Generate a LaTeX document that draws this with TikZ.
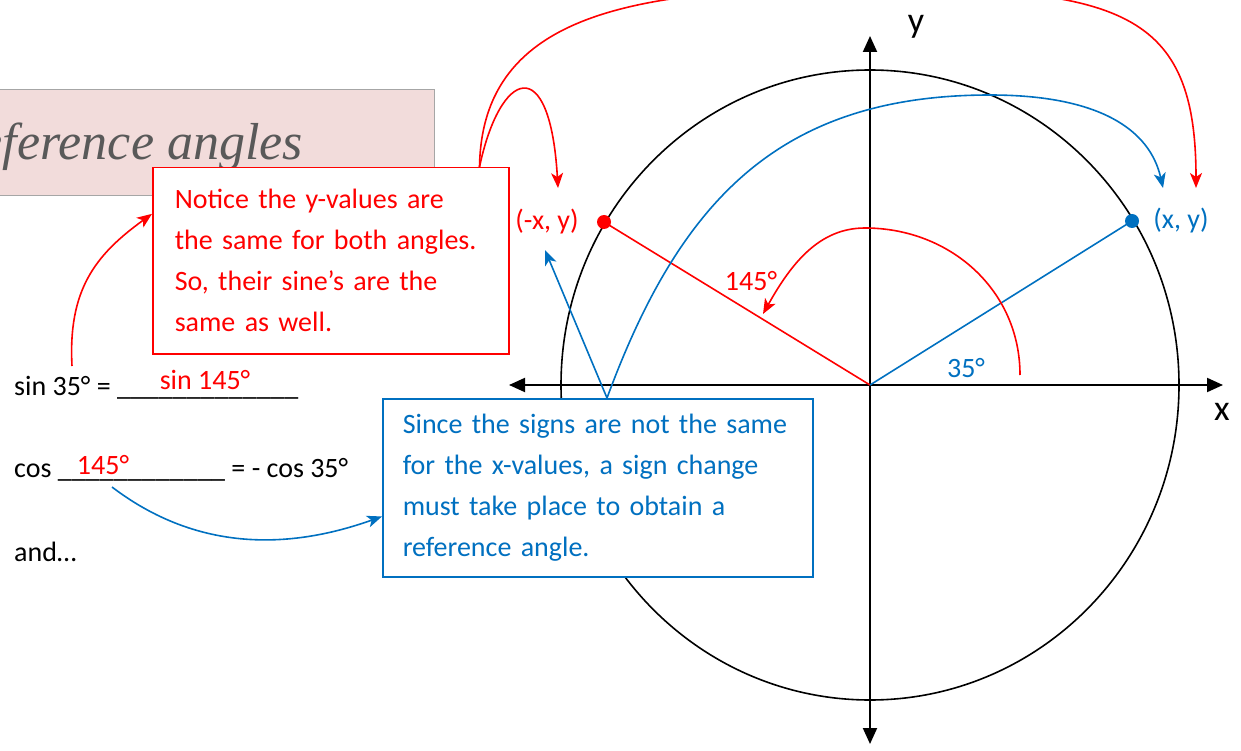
\documentclass[tikz,border=0pt]{standalone}
\usepackage{fontspec}
\setmainfont{Carlito}
\newfontfamily\titlefont{Liberation Serif}
\usetikzlibrary{arrows.meta, positioning, calc}
\definecolor{noteRed}{RGB}{255,0,0}
\definecolor{signBlue}{RGB}{0,112,192}
\definecolor{titlePink}{RGB}{242,220,219}
\definecolor{titleGray}{RGB}{89,89,89}

\begin{document}
\begin{tikzpicture}[
    x=1pt, y=1pt,
    >={Stealth[length=15pt, width=12pt, inset=4pt]},
    txt/.style={font=\fontsize{28}{41}\selectfont, inner sep=0pt},
    notebox/.style={txt, draw=noteRed, line width=1.5pt, fill=white,
                    text=noteRed, align=left, text width=312pt,
                    inner xsep=22pt, minimum height=186pt, anchor=north west},
    signbox/.style={txt, draw=signBlue, line width=1.5pt, fill=white,
                    text=signBlue, align=left, text width=390pt,
                    inner xsep=20pt, minimum height=178pt, anchor=north west},
    axis/.style={line width=2pt,
                 arrows={Triangle[length=16pt, width=14pt]-Triangle[length=16pt, width=14pt]}},
    axlbl/.style={font=\fontsize{36}{36}\selectfont, inner sep=0pt},
    redline/.style={noteRed, line width=1.6pt},
    blueline/.style={signBlue, line width=1.6pt},
    dot/.style={circle, inner sep=0pt, minimum size=14pt}
  ]
  \useasboundingbox (0,0) rectangle (1241,-751);
  \clip (0,0) rectangle (1241,-751);

  % Title banner
  \node[draw=gray!70, line width=1pt, fill=titlePink, inner sep=0pt,
        minimum width=450pt, minimum height=106pt, anchor=north east]
        (titlebox) at (435,-89) {};
  \node[font=\titlefont\itshape\fontsize{52}{60}\selectfont, text=titleGray,
        inner sep=0pt, anchor=base east] (title) at (303,-160) {Reference angles};

  % Unit circle and axes
  \coordinate (O) at (870,-385);
  \draw[line width=1.6pt] (O) ellipse [x radius=309pt, y radius=315pt];
  \coordinate (xl) at (509,-385);
  \coordinate (xr) at (1223,-385);
  \coordinate (yt) at (870,-36);
  \coordinate (yb) at (870,-744);
  \draw[axis] (xl) -- (xr);
  \draw[axis] (yb) -- (yt);
  \node[axlbl] (xlbl) at (1222,-412) {x};
  \node[axlbl] (ylbl) at (916,-27) {y};

  % Terminal points
  \node[dot, fill=noteRed] (redpt) at (604,-222) {};
  \node[dot, fill=signBlue] (bluept) at (1132,-221) {};
  \draw[redline] (O) -- (redpt.center);
  \draw[blueline] (O) -- (bluept.center);
  \node[txt, text=noteRed, left=18pt of redpt] (redlbl) {(-x, y)};
  \node[txt, text=signBlue, right=14pt of bluept] (bluelbl) {(x, y)};

  % Angles
  \node[txt, text=noteRed] (biglbl) at (751,-281) {145°};
  \node[txt, text=signBlue] (smalllbl) at (966,-368) {35°};
  \coordinate (arcstart) at (1020,-375);
  \coordinate (arcend) at (763,-314);
  \draw[redline, ->] (arcstart) .. controls (1020,-290) and (950,-228) .. (865,-228)
    .. controls (820,-228) and (792,-262) .. (arcend);

  % Call-out boxes
  \node[notebox] (note) at (152,-167)
    {Notice the y-values are\\the same for both angles.\\So, their sine’s are the\\same as well.};
  \node[signbox] (sign) at (382,-398)
    {Since the signs are not the same\\for the x-values, a sign change\\must take place to obtain a\\reference angle.};

  % Worked lines
  \node[txt, anchor=base west] (sinrow) at (14,-395)
    {sin 35° = \_\_\_\_\_\_\_\_\_\_\_\_\_};
  \node[txt, text=noteRed, anchor=base] (sinans) at (205,-389) {sin 145°};
  \node[txt, anchor=base west] (cosrow) at (14,-477)
    {cos \_\_\_\_\_\_\_\_\_\_\_\_ = - cos 35°};
  \node[txt, text=noteRed, anchor=base] (cosans) at (103,-474) {145°};
  \node[txt, anchor=base west] (androw) at (14,-561) {and…};

  % Connectors
  \coordinate (sinhead) at (72,-366);
  \coordinate (notetop) at ($(note.north east)+(-30,0)$);
  \coordinate (redtipL) at (558,-188);
  \coordinate (redtipR) at (1196,-188);
  \coordinate (bluetipR) at (1163,-188);
  \coordinate (bluetipL) at (545,-250);
  \coordinate (signtop) at ($(sign.north west)+(225,0)$);
  \coordinate (cosfoot) at (112,-487);
  \draw[redline, ->] (sinhead) .. controls (68,-290) and (95,-255)
    .. ($(note.north west)!0.25!(note.south west)$);
  \draw[redline, ->] (notetop) .. controls (500,-70) and (550,-50) .. (redtipL);
  \draw[redline, ->] (notetop) .. controls (482,-10) and (640,12) .. (870,12)
    .. controls (1120,12) and (1196,-10) .. (redtipR);
  \draw[blueline, ->] (signtop) .. controls (680,-200) and (780,-95) .. (990,-95)
    .. controls (1100,-95) and (1150,-130) .. (bluetipR);
  \draw[blueline, ->] (signtop) -- (bluetipL);
  \draw[blueline, ->] (cosfoot) .. controls (175,-535) and (260,-560)
    .. ($(sign.north west)!0.66!(sign.south west)$);
\end{tikzpicture}
\end{document}
